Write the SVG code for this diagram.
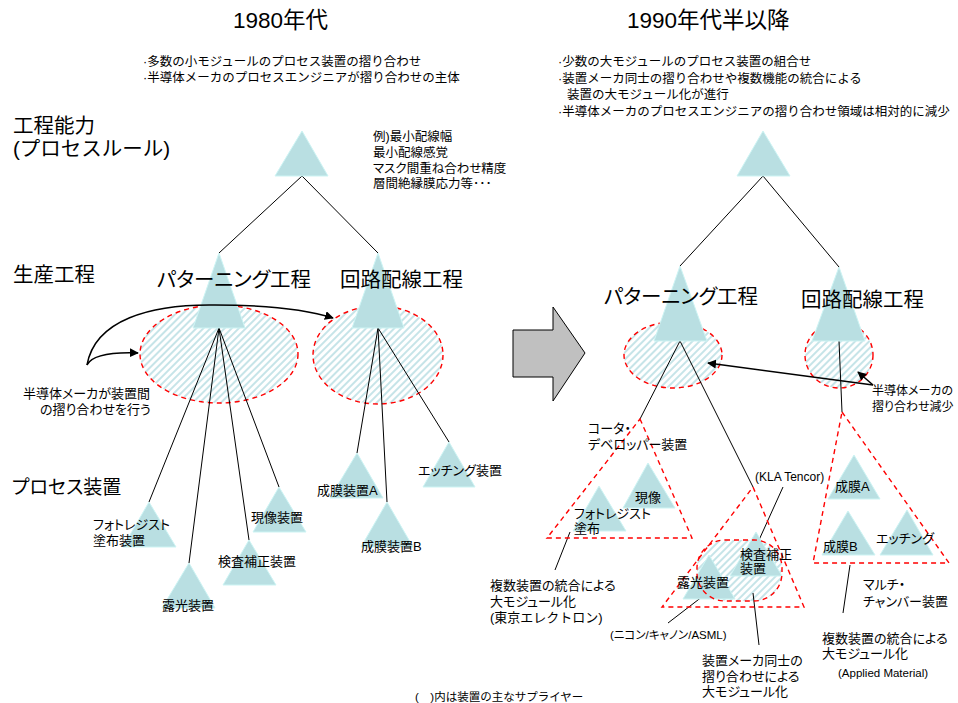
<svg xmlns="http://www.w3.org/2000/svg" width="958" height="703" viewBox="0 0 958 703">
<style>
text{font-family:"Liberation Sans","Noto Sans CJK JP",sans-serif;font-feature-settings:"palt" 1;fill:#000}
.title{font-size:22.5px}
.big{font-size:20.5px}
.mid{font-size:12.5px}
.fw{font-feature-settings:normal}
.lab{font-size:13px}
.sm{font-size:11.5px}
.tri{fill:#b9dfe2;stroke:#cdf4f4;stroke-width:1}
.red{fill:none;stroke:#ff0000;stroke-width:1.4;stroke-dasharray:5 4}
.hat{fill:url(#hatch);stroke:#ff0000;stroke-width:1.4;stroke-dasharray:5 4}
.ln{fill:none;stroke:#000;stroke-width:1}
.arr{fill:none;stroke:#000;stroke-width:1.5;marker-end:url(#ah)}
</style>
<defs>
<pattern id="hatch" patternUnits="userSpaceOnUse" width="5" height="5" patternTransform="rotate(45)">
<rect width="5" height="5" fill="#ffffff"/>
<rect width="2" height="5" fill="#c6e4e8"/>
</pattern>
<marker id="ah" viewBox="0 0 10 10" refX="9" refY="5" markerWidth="6" markerHeight="6" orient="auto" markerUnits="strokeWidth">
<path d="M0,0 L10,5 L0,10 z" fill="#000"/>
</marker>
</defs>
<rect width="958" height="703" fill="#ffffff"/>

<g id="headers">
<text class="title" x="233" y="28">1980年代</text>
<text class="mid fw" x="143" y="65.5">·多数の小モジュールのプロセス装置の摺り合わせ</text>
<text class="mid fw" x="143" y="81.5">·半導体メーカのプロセスエンジニアが摺り合わせの主体</text>
<text class="title" x="627" y="28">1990年代半以降</text>
<text class="mid fw" x="558" y="66">·少数の大モジュールのプロセス装置の組合せ</text>
<text class="mid fw" x="558" y="82.5">·装置メーカ同士の摺り合わせや複数機能の統合による</text>
<text class="mid fw" x="567" y="99">装置の大モジュール化が進行</text>
<text class="mid fw" x="558" y="115.5">·半導体メーカのプロセスエンジニアの摺り合わせ領域は相対的に減少</text>
<text class="big fw" x="13" y="133">工程能力</text>
<text class="big fw" x="13" y="156">(プロセスルール)</text>
<text class="big fw" x="13" y="282">生産工程</text>
<text class="big" x="12" y="494" style="font-size:19px">プロセス装置</text>
<text class="mid" x="373" y="141">例)最小配線幅</text>
<text class="mid" x="373" y="157">最小配線感覚</text>
<text class="mid" x="373" y="173">マスク間重ね合わせ精度</text>
<text class="mid" x="373" y="188">層間絶縁膜応力等･･･</text>
<text class="sm fw" x="415" y="701">(　)内は装置の主なサプライヤー</text>
</g>

<g id="hatched-areas">
<ellipse id="area-left-pattern" class="hat" cx="219" cy="354" rx="79" ry="49"/>
<ellipse id="area-left-wiring" class="hat" cx="378" cy="355" rx="65" ry="49"/>
<ellipse id="area-right-pattern" class="hat" cx="673" cy="355" rx="49" ry="33"/>
<ellipse id="area-right-wiring" class="hat" cx="839" cy="355" rx="34" ry="33"/>
<rect id="area-right-exposure" x="697" y="540" width="85" height="61" rx="28" ry="28" fill="url(#hatch)"/>
</g>

<g id="connectors">
<line class="ln" x1="302" y1="176" x2="219" y2="253"/>
<line class="ln" x1="302" y1="176" x2="378" y2="253"/>
<line class="ln" x1="219" y1="328" x2="149" y2="502"/>
<line class="ln" x1="219" y1="328" x2="189" y2="563"/>
<line class="ln" x1="219" y1="328" x2="249" y2="540"/>
<line class="ln" x1="219" y1="328" x2="279" y2="487"/>
<line class="ln" x1="378" y1="328" x2="357" y2="453"/>
<line class="ln" x1="378" y1="328" x2="387" y2="502"/>
<line class="ln" x1="378" y1="328" x2="449" y2="442"/>
<line class="ln" x1="763" y1="176" x2="680" y2="266"/>
<line class="ln" x1="763" y1="176" x2="839" y2="267"/>
<line class="ln" x1="680" y1="341" x2="640" y2="419"/>
<line class="ln" x1="680" y1="341" x2="753" y2="487"/>
<line class="ln" x1="839" y1="341" x2="842" y2="412"/>
<line class="ln" x1="570" y1="532" x2="555" y2="570"/>
<line class="ln" x1="783" y1="487" x2="759" y2="540"/>
<line class="ln" x1="707" y1="593" x2="668" y2="623"/>
<line class="ln" x1="753" y1="593" x2="759" y2="645"/>
<line class="ln" x1="850" y1="565" x2="843" y2="613"/>
</g>

<g id="node-top-left"><polygon class="tri" points="302,131 328,176 275,176"/></g>
<g id="node-top-right"><polygon class="tri" points="763,131 790,176 737,176"/></g>
<g id="node-pattern-left"><polygon class="tri" points="219,253 245,328 193,328"/><text class="big" x="157" y="287">パターニング工程</text></g>
<g id="node-wiring-left"><polygon class="tri" points="378,253 404,328 352,328"/><text class="big" x="340" y="287">回路配線工程</text></g>
<g id="node-pattern-right"><polygon class="tri" points="680,266 707,341 654,341"/><text class="big" x="604" y="304">パターニング工程</text></g>
<g id="node-wiring-right"><polygon class="tri" points="839,267 865,341 812,341"/><text class="big" x="801" y="307">回路配線工程</text></g>

<g id="node-photoresist"><polygon class="tri" points="149,502 176,547 123,547"/><text class="lab" x="93" y="529">フォトレジスト</text><text class="lab" x="93" y="545">塗布装置</text></g>
<g id="node-exposure"><polygon class="tri" points="189,563 215,608 162,608"/><text class="lab" x="162" y="610">露光装置</text></g>
<g id="node-inspection"><polygon class="tri" points="249,540 276,585 223,585"/><text class="lab" x="218" y="566">検査補正装置</text></g>
<g id="node-develop"><polygon class="tri" points="279,487 306,532 253,532"/><text class="lab" x="251" y="522">現像装置</text></g>
<g id="node-filmA"><polygon class="tri" points="357,453 383,498 330,498"/><text class="lab" x="317" y="495">成膜装置A</text></g>
<g id="node-filmB"><polygon class="tri" points="387,502 413,547 361,547"/><text class="lab" x="361" y="551">成膜装置B</text></g>
<g id="node-etching"><polygon class="tri" points="449,442 475,487 423,487"/><text class="lab" x="418" y="475">エッチング装置</text></g>

<g id="left-note">
<text class="lab" x="23" y="397.5">半導体メーカが装置間</text>
<text class="lab" x="40" y="413.5">の摺り合わせを行う</text>
<path class="arr" d="M87,365 C92,355 110,352 138,353"/>
<path class="arr" d="M87,365 C95,320 150,304 215,305 C265,305 305,309 333,318"/>
</g>

<g id="transition-arrow"><polygon points="513,330 553,330 553,307 585,353 553,401 553,377 513,377" fill="#c0c0c0" stroke="#000" stroke-width="1"/></g>

<g id="node-coater-group">
<polygon class="red" points="640,419 692,538 547,538"/>
<polygon class="tri" points="648,463 675,508 623,508"/>
<polygon class="tri" points="599,486 626,531 573,531"/>
<text class="lab" x="635" y="502">現像</text>
<text class="lab" x="574" y="518">フォトレジスト</text>
<text class="lab" x="574" y="533">塗布</text>
<text class="lab" x="588" y="433">コータ・</text>
<text class="lab" x="588" y="449">デベロッパー装置</text>
<text class="lab" x="490" y="590">複数装置の統合による</text>
<text class="lab" x="490" y="606">大モジュール化</text>
<text class="lab fw" x="490" y="622">(東京エレクトロン)</text>
</g>

<g id="node-exposure-group">
<polygon class="red" points="753,487 804,607 662,607"/>
<polygon class="tri" points="709,555 735,599 683,599"/>
<polygon class="tri" points="756,532 782,576 730,576"/>
<rect class="red" x="697" y="540" width="85" height="61" rx="28" ry="28"/>
<text class="lab" x="677" y="587">露光装置</text>
<text class="lab" x="740" y="559">検査補正</text>
<text class="lab" x="740" y="573">装置</text>
<text class="sm" x="755" y="481" style="font-size:12px">(KLA Tencor)</text>
<text class="sm" x="610" y="639">(ニコン/キャノン/ASML)</text>
<text class="lab" x="702" y="665">装置メーカ同士の</text>
<text class="lab" x="702" y="681">摺り合わせによる</text>
<text class="lab" x="702" y="696">大モジュール化</text>
</g>

<g id="node-multichamber-group">
<polygon class="red" points="842,412 949,563 813,563"/>
<polygon class="tri" points="854,455 880,499 828,499"/>
<polygon class="tri" points="848,511 875,555 822,555"/>
<polygon class="tri" points="907,510 933,555 880,555"/>
<text class="lab" x="835" y="491">成膜A</text>
<text class="lab" x="823" y="551">成膜B</text>
<text class="lab" x="876" y="543">エッチング</text>
<text class="lab" x="863" y="589">マルチ・</text>
<text class="lab" x="863" y="606">チャンバー装置</text>
<text class="lab" x="822" y="643">複数装置の統合による</text>
<text class="lab" x="822" y="658">大モジュール化</text>
<text class="sm" x="838" y="677">(Applied Material)</text>
</g>

<g id="right-note">
<path class="arr" d="M873,385 L708,363"/>
<path class="arr" d="M873,385 L858,372"/>
<text class="lab" x="872" y="395" style="font-size:12px">半導体メーカの</text>
<text class="lab" x="872" y="411" style="font-size:12px">摺り合わせ減少</text>
</g>
</svg>
